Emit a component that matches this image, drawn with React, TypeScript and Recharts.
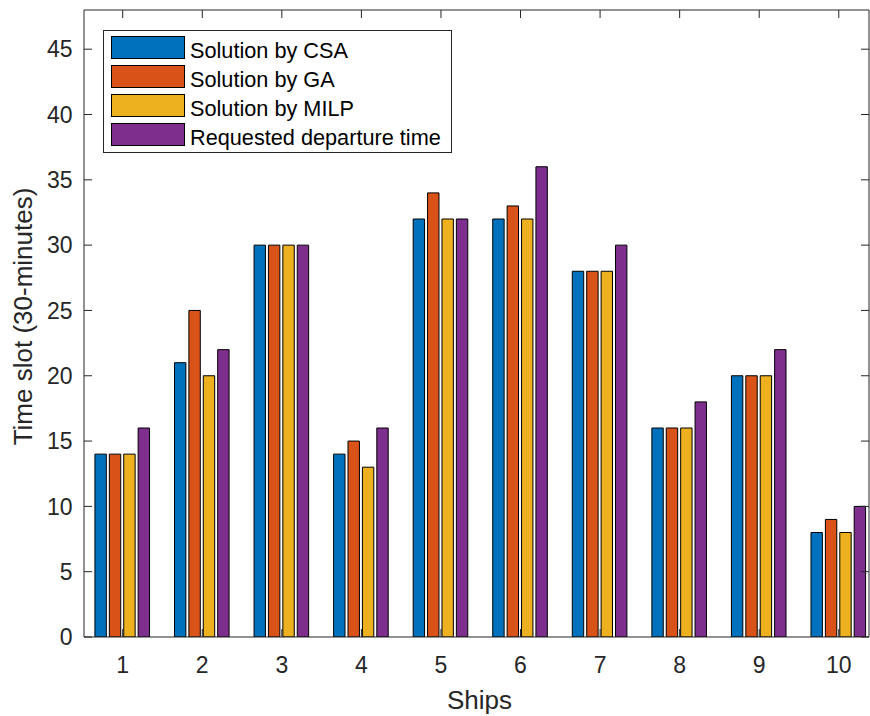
import React from 'react';
import { BarChart, Bar, XAxis, YAxis } from 'recharts';

// values
const ships = [1, 2, 3, 4, 5, 6, 7, 8, 9, 10];
const csa = [14, 21, 30, 14, 32, 32, 28, 16, 20, 8];
const ga = [14, 25, 30, 15, 34, 33, 28, 16, 20, 9];
const milp = [14, 20, 30, 13, 32, 32, 28, 16, 20, 8];
const requested = [16, 22, 30, 16, 32, 36, 30, 18, 22, 10];

const seriesNames = ['Solution by CSA', 'Solution by GA', 'Solution by MILP', 'Requested departure time'];
const seriesKeys = ['csa', 'ga', 'milp', 'requested'];
const COLORS = ['#0072BD', '#D95319', '#EDB120', '#7E2F8E'];

const yTicks = [0, 5, 10, 15, 20, 25, 30, 35, 40, 45];

const data = ships.map((s, i) => ({
  ship: s,
  csa: csa[i],
  ga: ga[i],
  milp: milp[i],
  requested: requested[i],
}));

const FONT = '"Liberation Sans", Arial, Helvetica, sans-serif';
const AXIS = '#262626';
const X_DOMAIN = [0.5135, 10.38];
const TICK_LEN = 8;

// MATLAB style: tick marks point into the plot box
const InTick = (side: 'left' | 'right' | 'top' | 'bottom') => (props: any) => {
  const { x, y, payload } = props;
  if (side === 'left') {
    return (
      <g>
        <line x1={x} y1={y} x2={x + TICK_LEN} y2={y} stroke={AXIS} strokeWidth={1} />
        <text x={x - 11.5} y={y} dy="0.36em" textAnchor="end" fill={AXIS} fontSize={23} fontFamily={FONT}>
          {payload.value}
        </text>
      </g>
    );
  }
  if (side === 'bottom') {
    return (
      <g>
        <line x1={x} y1={y} x2={x} y2={y - TICK_LEN} stroke={AXIS} strokeWidth={1} />
        <text x={x} y={y + 20} dy="0.71em" textAnchor="middle" fill={AXIS} fontSize={23} fontFamily={FONT}>
          {payload.value}
        </text>
      </g>
    );
  }
  if (side === 'top') {
    return <line x1={x} y1={y} x2={x} y2={y + TICK_LEN} stroke={AXIS} strokeWidth={1} />;
  }
  return <line x1={x} y1={y} x2={x - TICK_LEN} y2={y} stroke={AXIS} strokeWidth={1} />;
};

const XTitle = (props: any) => {
  const vb = props.viewBox || { x: 84, y: 637, width: 785, height: 79 };
  return (
    <text x={vb.x + vb.width / 2 + 3} y={vb.y + 71.5} textAnchor="middle" fill={AXIS} fontSize={26} fontFamily={FONT}>
      Ships
    </text>
  );
};

const YTitle = (props: any) => {
  const vb = props.viewBox || { x: 0, y: 10, width: 84, height: 627 };
  const cx = vb.x + 23;
  const cy = vb.y + vb.height / 2 - 7;
  return (
    <text
      x={cx}
      y={cy}
      transform={`rotate(-90, ${cx}, ${cy})`}
      textAnchor="middle"
      dominantBaseline="central"
      fill={AXIS}
      fontSize={26}
      fontFamily={FONT}
    >
      Time slot (30-minutes)
    </text>
  );
};

const LegendBox = () => (
  <div
    style={{
      position: 'absolute',
      left: 103,
      top: 30,
      width: 349,
      height: 123,
      boxSizing: 'border-box',
      border: `1px solid ${AXIS}`,
      background: '#fff',
      fontFamily: FONT,
    }}
  >
    {seriesNames.map((name, i) => (
      <React.Fragment key={name}>
        <div
          style={{
            position: 'absolute',
            left: 7,
            top: 5 + i * 28.9,
            width: 74,
            height: 23,
            boxSizing: 'border-box',
            border: '1px solid #000',
            background: COLORS[i],
          }}
        />
        <div
          style={{
            position: 'absolute',
            left: 86,
            top: 5.4 + i * 28.9,
            lineHeight: '29px',
            fontSize: 21.7,
            color: '#000',
            whiteSpace: 'nowrap',
          }}
        >
          {name}
        </div>
      </React.Fragment>
    ))}
  </div>
);

export default function App() {
  return (
    <div style={{ position: 'absolute', left: 0, top: 0, width: 870, height: 716, background: '#fff' }}>
      <BarChart
        width={870}
        height={716}
        data={data}
        margin={{ top: 9, right: 0, bottom: 0, left: 0 }}
        barSize={11.4}
        barGap={3}
        style={{ fontFamily: FONT }}
      >
        <XAxis
          xAxisId="x"
          dataKey="ship"
          type="number"
          domain={X_DOMAIN}
          ticks={ships}
          allowDataOverflow
          height={79}
          tickSize={0}
          tickMargin={0}
          tickLine={false}
          stroke={AXIS}
          tick={InTick('bottom')}
          label={XTitle}
        />
        <XAxis
          xAxisId="xTop"
          dataKey="ship"
          type="number"
          orientation="top"
          domain={X_DOMAIN}
          ticks={ships}
          allowDataOverflow
          height={1}
          tickSize={0}
          tickMargin={0}
          tickLine={false}
          tick={InTick('top')}
          stroke={AXIS}
        />
        <YAxis
          yAxisId="y"
          type="number"
          domain={[0, 48]}
          ticks={yTicks}
          allowDataOverflow
          width={84}
          tickSize={0}
          tickMargin={0}
          tickLine={false}
          stroke={AXIS}
          tick={InTick('left')}
          label={YTitle}
        />
        <YAxis
          yAxisId="yRight"
          type="number"
          orientation="right"
          domain={[0, 48]}
          ticks={yTicks}
          allowDataOverflow
          width={1}
          tickSize={0}
          tickMargin={0}
          tickLine={false}
          tick={InTick('right')}
          stroke={AXIS}
        />
        {seriesKeys.map((k, i) => (
          <Bar
            key={k}
            dataKey={k}
            name={seriesNames[i]}
            xAxisId="x"
            yAxisId="y"
            fill={COLORS[i]}
            stroke="#000"
            strokeWidth={1}
            isAnimationActive={false}
          />
        ))}
      </BarChart>
      <LegendBox />
    </div>
  );
}
